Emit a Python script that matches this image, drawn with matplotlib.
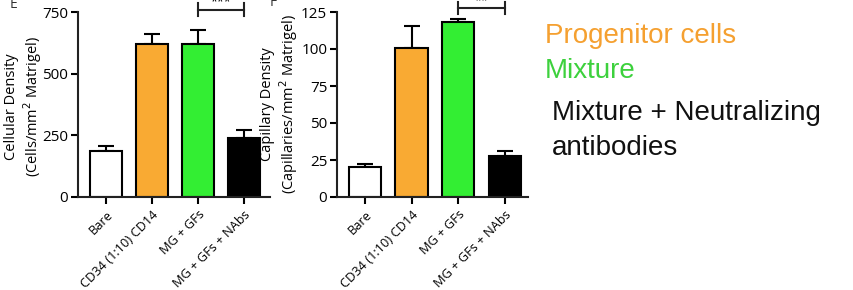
import numpy as np
import matplotlib.pyplot as plt

# Data
groups = ["Bare", "CD34 (1:10) CD14", "MG + GFs", "MG + GFs + NAbs"]
bar_colors = ["white", "#F9AA33", "#33EE33", "black"]

cell_density = [185, 620, 620, 238]
cell_err = [20, 40, 57, 32]

cap_density = [20.5, 100.5, 118.5, 27.5]
cap_err = [2, 15, 1.5, 3.5]

plt.rcParams['font.family'] = ['Open Sans', 'DejaVu Sans']

fig = plt.figure(figsize=(8.54, 2.9), dpi=100)


def panel(rect, vals, errs, ymax, yticks, ylabel, xlim, bracket_y, stars, label_xy):
    ax = fig.add_axes(rect)
    x = np.arange(len(vals))
    ax.bar(x, vals, width=0.69, color=bar_colors, edgecolor='black',
           linewidth=1.5, zorder=2)
    # only the upper half of the error bar is drawn
    ax.errorbar(x, vals, yerr=[np.zeros(len(errs)), errs], fmt='none',
                ecolor='black', elinewidth=1.5, capsize=6, capthick=1.5, zorder=1)
    ax.set_ylim(0, ymax)
    ax.set_xlim(*xlim)
    ax.set_yticks(yticks)
    ax.set_xticks(x)
    ax.set_xticklabels(groups, rotation=45, ha='right', rotation_mode='anchor',
                       fontsize=9.2)
    ax.tick_params(axis='y', labelsize=11, width=1.5, length=5, pad=2)
    ax.tick_params(axis='x', width=1.5, length=5, pad=3)
    for s in ['top', 'right']:
        ax.spines[s].set_visible(False)
    for s in ['left', 'bottom']:
        ax.spines[s].set_linewidth(1.5)
        ax.spines[s].set_color('#222222')
    ax.set_ylabel(ylabel, fontsize=10.5, linespacing=1.15)
    ax.yaxis.set_label_coords(*label_xy)

    # significance bracket between groups 3 and 4
    h = ymax * 0.035
    ax.plot([2, 3], [bracket_y, bracket_y], color='#222222', lw=1.5, clip_on=False)
    ax.plot([2, 2], [bracket_y - h, bracket_y + h], color='#222222', lw=1.5, clip_on=False)
    ax.plot([3, 3], [bracket_y - h, bracket_y + h], color='#222222', lw=1.5, clip_on=False)
    ax.text(2.5, bracket_y + ymax * 0.005, stars, ha='center', va='bottom',
            fontsize=9, clip_on=False)
    return ax


ax1 = panel([78 / 854, 1 - 197 / 290, 192 / 854, 185 / 290],
            cell_density, cell_err, 750, [0, 250, 500, 750],
            "Cellular Density\n(Cells/mm$^2$ Matrigel)", (-0.61, 3.57), 760, "***",
            (-0.175, 0.49))
ax2 = panel([337 / 854, 1 - 197 / 290, 191 / 854, 185 / 290],
            cap_density, cap_err, 125, [0, 25, 50, 75, 100, 125],
            "Capillary Density\n(Capillaries/mm$^2$ Matrigel)", (-0.6, 3.5), 127.7, "**",
            (-0.195, 0.5))

fig.text(10 / 854, 1 - 12 / 290, "E", fontsize=10, color='#333333', va='bottom')
fig.text(270 / 854, 1 - 10 / 290, "F", fontsize=10, color='#333333', va='bottom')

legend_font = ['Liberation Sans', 'DejaVu Sans']
fig.text(545 / 854, 1 - 43 / 290, "Progenitor cells", color='#F5A030',
         fontsize=20, family=legend_font, va='baseline')
fig.text(545 / 854, 1 - 78 / 290, "Mixture", color='#3DD13D',
         fontsize=20, family=legend_font, va='baseline')
fig.text(552 / 854, 1 - 120 / 290, "Mixture + Neutralizing", color='#111111',
         fontsize=20, family=legend_font, va='baseline')
fig.text(552 / 854, 1 - 155 / 290, "antibodies", color='#111111',
         fontsize=20, family=legend_font, va='baseline')

fig.savefig("out.png", dpi=100)
